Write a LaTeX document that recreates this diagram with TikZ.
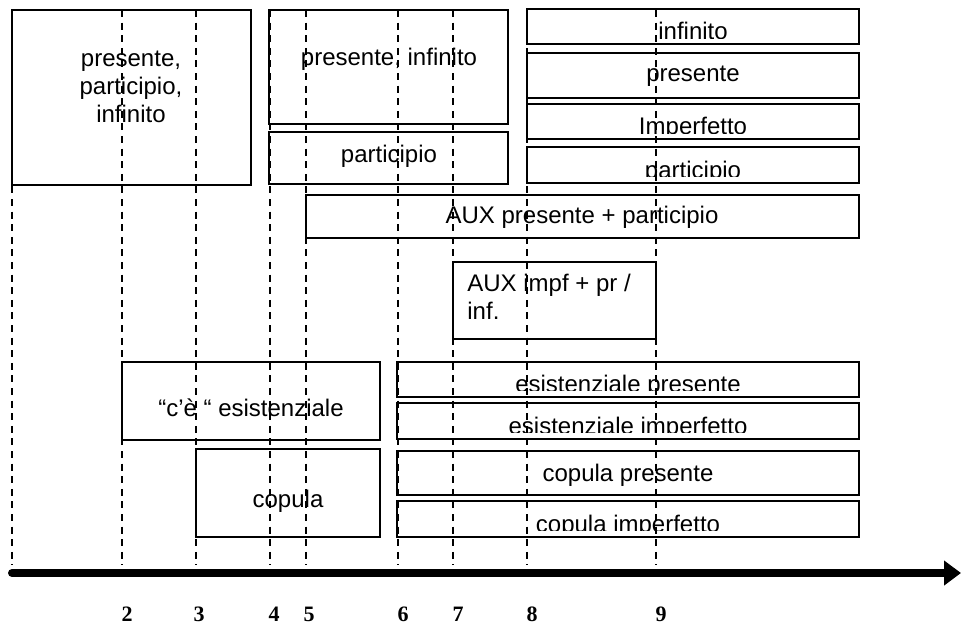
\documentclass[tikz,border=0pt]{standalone}
\usepackage{fontspec}
\setmainfont{Liberation Sans}
\newfontfamily\numfont{Liberation Serif}
\usetikzlibrary{arrows.meta}

\begin{document}
\begin{tikzpicture}[x=0.5pt,y=-0.5pt,
	box/.style={line width=0.9pt},
	txt/.style={font=\fontsize{12}{13.8}\selectfont,inner sep=0pt,anchor=base},
	num/.style={font=\numfont\bfseries\fontsize{11}{13}\selectfont,inner sep=0pt,anchor=base},
	guide/.style={line width=0.75pt,dash pattern=on 3.5pt off 2.8pt}]

\useasboundingbox (0,0) rectangle (961,623);

% upper left
\draw[box] (12,10) rectangle (251,185);
\node[txt,align=center] (ppi) at (131,122) {presente,\\participio,\\infinito};

\draw[box] (269,10) rectangle (508,124);
\node[txt] (presinf) at (389,65) {presente, infinito};
\draw[box] (269,132) rectangle (508,184);
\node[txt] (part) at (389,162) {participio};

% upper right
\draw[box] (527,9) rectangle (859,44);
\begin{scope}
\clip (527,9) rectangle (859,38);
\node[txt] (inf) at (693,39) {infinito};
\end{scope}
\draw[box] (527,53) rectangle (859,98);
\node[txt] (pres) at (693,81) {presente};
\draw[box] (527,104) rectangle (859,139);
\begin{scope}
\clip (527,104) rectangle (859,133);
\node[txt] (impf) at (693,134) {Imperfetto};
\end{scope}
\draw[box] (527,147) rectangle (859,183);
\begin{scope}
\clip (527,147) rectangle (859,176);
\node[txt] (partr) at (693,178) {participio};
\end{scope}

% ausiliari
\draw[box] (306,195) rectangle (859,238);
\node[txt] (auxpres) at (582,223) {AUX presente + participio};
\draw[box] (453,262) rectangle (656,339);
\node[txt,anchor=base west,align=left] (auximpf) at (467,319) {AUX impf + pr /\\inf.};

% essere
\draw[box] (122,362) rectangle (380,440);
\node[txt] (cee) at (251,416) {“c’è “ esistenziale};
\draw[box] (196,449) rectangle (380,537);
\node[txt] (cop) at (288,507) {copula};

\draw[box] (397,362) rectangle (859,397);
\begin{scope}
\clip (397,362) rectangle (859,390);
\node[txt] (espres) at (628,392) {esistenziale presente};
\end{scope}
\draw[box] (397,403) rectangle (859,439);
\begin{scope}
\clip (397,403) rectangle (859,432);
\node[txt] (esimpf) at (628,434) {esistenziale imperfetto};
\end{scope}
\draw[box] (397,451) rectangle (859,495);
\node[txt] (coppres) at (628,481) {copula presente};
\draw[box] (397,501) rectangle (859,537);
\begin{scope}
\clip (397,501) rectangle (859,530);
\node[txt] (copimpf) at (628,532) {copula imperfetto};
\end{scope}

% guides
\foreach \x in {12,122,196,270,306,398,453,527,656}{
	\draw[guide] (\x,10)--(\x,565);
}

% time axis
\coordinate (start) at (12,573);
\coordinate (end) at (961,573);
\draw[line width=4pt,line cap=round,-{Triangle[length=8.5pt,width=12pt]}] (start)--(end);

\foreach \x/\n in {127/2,199/3,274/4,309/5,403/6,458/7,532/8,661/9}{
	\node[num] (n\n) at (\x,621) {\n};
}

\end{tikzpicture}
\end{document}
